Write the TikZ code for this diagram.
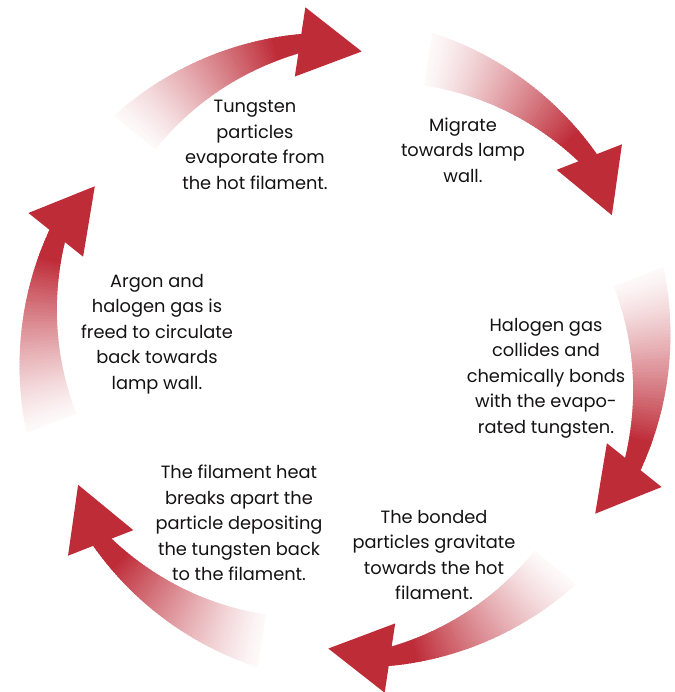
\documentclass[tikz,border=0pt]{standalone}
\usepackage{fontspec}
\setmainfont{Poppins}
\definecolor{arrowred}{RGB}{190,44,56}
\definecolor{textgray}{RGB}{20,18,18}
\tikzset{
  cycletext/.style={align=center, font=\fontsize{17.8}{25.5}\selectfont, text=textgray, inner sep=0pt},
  arrowhead fill/.style={fill=arrowred}
}
\newcommand{\cyclearrow}[1]{%
  \foreach \i in {0,...,59} {
    \pgfmathsetmacro{\sa}{\i/60}
    \pgfmathsetmacro{\sb}{min(1,(\i+1.6)/60)}
    \pgfmathsetmacro{\ia}{#1+46.6-35.6*\sa}
    \pgfmathsetmacro{\ib}{#1+46.6-35.6*\sb}
    \pgfmathsetmacro{\oa}{#1+47.8-36.8*\sa}
    \pgfmathsetmacro{\ob}{#1+47.8-36.8*\sb}
    \pgfmathsetmacro{\ria}{276+25*\sa}
    \pgfmathsetmacro{\rib}{276+25*\sb}
    \pgfmathsetmacro{\roa}{329-10*\sa}
    \pgfmathsetmacro{\rob}{329-10*\sb}
    \pgfmathsetmacro{\mx}{min(100,3+97*(min(1,\sa/0.85))^1.25)}
    \fill[arrowred!\mx] (\ia:\ria pt) -- (\oa:\roa pt) -- (\ob:\rob pt) -- (\ib:\rib pt) -- cycle;
  }
  \fill[arrowhead fill] (#1+13.6:278pt) -- (#1:299pt) -- (#1+9.8:345pt) -- cycle;
}
\begin{document}
\begin{tikzpicture}
\useasboundingbox (0,0) rectangle (674pt,692pt);
\begin{scope}[shift={(345pt,342pt)}]
  \cyclearrow{86.8}
  \cyclearrow{26.8}
  \cyclearrow{-33.2}
  \cyclearrow{-93.2}
  \cyclearrow{-153.2}
  \cyclearrow{146.8}
\end{scope}
\node[cycletext] (evap) at (255pt,547pt) {Tungsten\\particles\\evaporate from\\the hot filament.};
\node[cycletext] (migr) at (463pt,542pt) {Migrate\\towards lamp\\wall.};
\node[cycletext] (bond) at (546pt,314pt) {Halogen gas\\collides and\\chemically bonds\\with the evapo-\\rated tungsten.};
\node[cycletext] (grav) at (434pt,137pt) {The bonded\\particles gravitate\\towards the hot\\filament.};
\node[cycletext] (back) at (239pt,169pt) {The filament heat\\breaks apart the\\particle depositing\\the tungsten back\\to the filament.};
\node[cycletext] (free) at (157pt,358pt) {Argon and\\halogen gas is\\freed to circulate\\back towards\\lamp wall.};
\end{tikzpicture}
\end{document}
